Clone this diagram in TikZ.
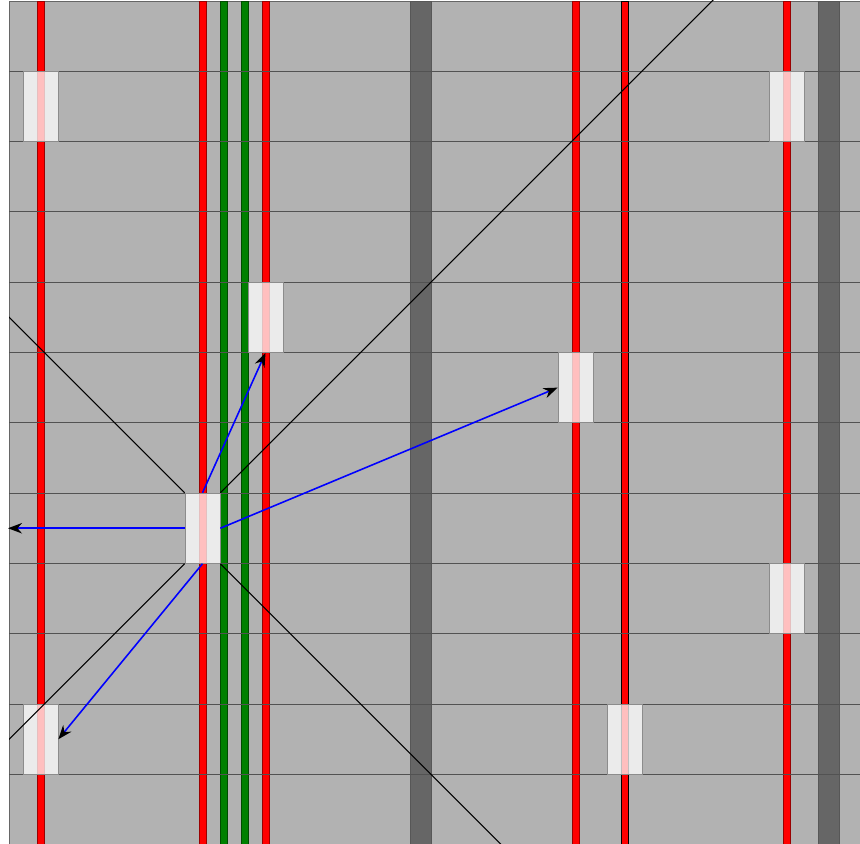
\documentclass[tikz,border=0pt]{standalone}
\usepackage{tikz}
\usetikzlibrary{arrows.meta}

\begin{document}
\begin{tikzpicture}[
      x=0.02cm, y=-0.02cm,
      event/.style={draw=black!45, fill=white, fill opacity=0.75, inner sep=0pt, minimum width=0.7cm, minimum height=1.406cm},
      redline/.style={fill=red, draw=red!60!black, line width=0.3pt},
      greenline/.style={fill=green!50!black, draw=green!30!black, line width=0.3pt},
      wall/.style={fill=black!60, draw=black!66, line width=0.3pt},
      gridline/.style={draw=black!68, line width=0.5pt},
      cone/.style={draw=black, line width=0.55pt},
      arrow/.style={-{Stealth[black, length=8pt, width=6pt]}, draw=blue, line width=0.9pt}
    ]
    \useasboundingbox (0,0) rectangle (860,844);
    \fill[black!30] (9,1) rectangle (862,846);
    \draw[black!60, line width=0.5pt] (862,1) -- (9,1) -- (9,846);

    \foreach \x in {40.5,202.5,265.5,575.5,786.5}
      \filldraw[redline] (\x-3.5,1) rectangle (\x+3.5,846);
    \filldraw[redline, draw=black] (621.5,1) rectangle (628.5,846);
    \foreach \x in {223.7,245}
      \filldraw[greenline] (\x-3.5,1) rectangle (\x+3.5,846);
    \foreach \x in {421,828.5}
      \filldraw[wall] (\x-10.5,1) rectangle (\x+10.5,846);

    \foreach \i in {1,...,11}
      \draw[gridline] (9,1+70.3*\i) -- (862,1+70.3*\i);

    \node[event] (e0) at (202.5,528.25) {};
    \node[event] (e1) at (40.5,106.45) {};
    \node[event] (e2) at (265.5,317.35) {};
    \node[event] (e3) at (575.5,387.65) {};
    \node[event] (e4) at (786.5,106.45) {};
    \node[event] (e5) at (786.5,598.55) {};
    \node[event] (e6) at (40.5,739.25) {};
    \node[event] (e7) at (625,739.25) {};
    \coordinate (edge) at (8,528.25);

    \begin{scope}
      \clip (9,1) rectangle (860,844);
      \draw[cone] (e0.north west) -- ++(-300,-300);
      \draw[cone] (e0.south west) -- ++(-300,300);
      \draw[cone] (e0.north east) -- ++(600,-600);
      \draw[cone] (e0.south east) -- ++(400,400);
    \end{scope}

    \draw[arrow] (e0.west) -- (edge);
    \draw[arrow] (e0.north) -- (e2.south);
    \draw[arrow] (e0.east) -- (e3.west);
    \draw[arrow] (e0.south) -- (e6.east);
  \end{tikzpicture}
\end{document}
